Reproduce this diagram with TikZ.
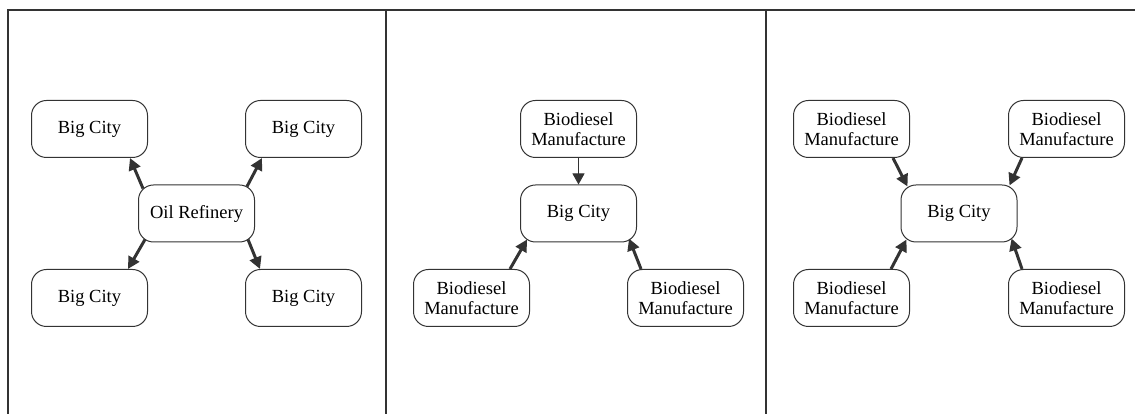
\documentclass[tikz,border=0pt]{standalone}
\usepackage{fontspec}
\setmainfont{Liberation Serif}
\usetikzlibrary{arrows.meta}
\definecolor{mygray}{HTML}{333333}
\begin{document}
\begin{tikzpicture}[x=1pt, y=1pt,
    box/.style={draw=mygray, line width=1pt, rounded corners=15pt, minimum width=116pt,
      minimum height=57pt, inner sep=0pt, align=center,
      font=\fontsize{18.5}{19.5}\selectfont},
    flow/.style={draw=mygray, line width=3pt, -{Triangle[length=12pt, width=12pt]}},
    thinflow/.style={draw=mygray, line width=1pt, -{Triangle[length=11pt, width=12pt]}}]
    \useasboundingbox (0,0) rectangle (1135,414);
    \draw[mygray, line width=2.5pt] (8,0) -- (8,404) -- (1135,404);
    \foreach \x in {386, 766} {
      \draw[mygray, line width=2.5pt] (\x,0) -- (\x,404);
    }
    \node[box] (ref) at (196.5,200.5) {Oil Refinery};
    \node[box] (c1) at (89.5,285) {Big City};
    \node[box] (c2) at (303.5,285) {Big City};
    \node[box] (c3) at (89.5,116) {Big City};
    \node[box] (c4) at (303.5,116) {Big City};
    \draw[flow] ([shift={(5,-4)}]ref.north west) -- ([shift={(-18,0)}]c1.south east);
    \draw[flow] ([shift={(-8,-2)}]ref.north east) -- ([shift={(17,0)}]c2.south west);
    \draw[flow] ([shift={(7,3)}]ref.south west) -- ([shift={(-20,0)}]c3.north east);
    \draw[flow] ([shift={(-7,3)}]ref.south east) -- ([shift={(15,0)}]c4.north west);
    \node[box] (city2) at (578.5,200.5) {Big City};
    \node[box] (m1) at (578.5,285) {Biodiesel\\Manufacture};
    \node[box] (m2) at (471.5,116) {Biodiesel\\Manufacture};
    \node[box] (m3) at (685.5,116) {Biodiesel\\Manufacture};
    \draw[thinflow] (m1.south) -- (city2.north);
    \draw[flow] ([shift={(-20,0)}]m2.north east) -- ([shift={(7,3)}]city2.south west);
    \draw[flow] ([shift={(14,0)}]m3.north west) -- ([shift={(-8,4)}]city2.south east);
    \node[box] (city3) at (959,200.5) {Big City};
    \node[box] (n1) at (851.5,285) {Biodiesel\\Manufacture};
    \node[box] (n2) at (1066.5,285) {Biodiesel\\Manufacture};
    \node[box] (n3) at (851.5,116) {Biodiesel\\Manufacture};
    \node[box] (n4) at (1066.5,116) {Biodiesel\\Manufacture};
    \draw[flow] ([shift={(-17,0)}]n1.south east) -- ([shift={(7,-2)}]city3.north west);
    \draw[flow] ([shift={(14,0)}]n2.south west) -- ([shift={(-8,-1)}]city3.north east);
    \draw[flow] ([shift={(-19,0)}]n3.north east) -- ([shift={(6,3)}]city3.south west);
    \draw[flow] ([shift={(14,0)}]n4.north west) -- ([shift={(-6,4)}]city3.south east);
\end{tikzpicture}
\end{document}
